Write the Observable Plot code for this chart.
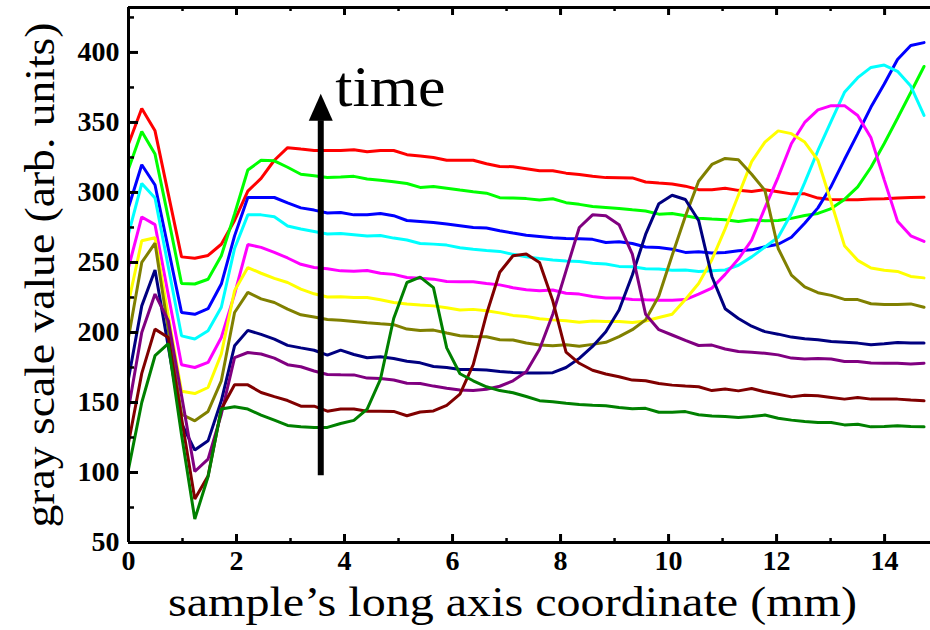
<!DOCTYPE html>
<html>
<head>
<meta charset="utf-8">
<script src="https://cdn.jsdelivr.net/npm/d3@7"></script>
<script src="https://cdn.jsdelivr.net/npm/@observablehq/plot@0.6"></script>
<style>
  html, body { margin: 0; padding: 0; background: #fff; }
</style>
</head>
<body>
<div id="chart"></div>
<script>
// sample positions along the long axis (mm)
const xs = [0, 0.2455, 0.491, 0.7365, 0.982, 1.2275, 1.473, 1.7185, 1.964, 2.2095, 2.455, 2.7005, 2.946, 3.1915, 3.437, 3.6825, 3.928, 4.1735, 4.419, 4.6645, 4.91, 5.1555, 5.401, 5.6465, 5.892, 6.1375, 6.383, 6.6285, 6.874, 7.1195, 7.365, 7.6105, 7.856, 8.1015, 8.347, 8.5925, 8.838, 9.0835, 9.329, 9.5745, 9.82, 10.0655, 10.311, 10.5565, 10.802, 11.0475, 11.293, 11.5385, 11.784, 12.0295, 12.275, 12.5205, 12.766, 13.0115, 13.257, 13.5025, 13.748, 13.9935, 14.239, 14.4845, 14.73];

// gray scale value profiles, latest (top) to earliest (bottom)
const redValues = [334.6, 360, 344, 299, 254, 253, 255, 263, 280, 301, 310, 323, 332, 331, 330, 330, 330, 330.5, 329, 330, 330, 327, 326, 325, 323, 323, 323, 320.5, 318.6, 318.4, 317, 315.5, 315.5, 313.8, 312.8, 311.5, 310.6, 310.5, 310.4, 307.5, 306.7, 306, 304.5, 302, 302, 303, 301.5, 300.7, 302, 300.5, 299, 299, 296, 295, 294.8, 294.8, 295.3, 295.5, 296, 296.4, 296.6];
const greenValues = [316.7, 343.6, 327.4, 282, 235, 234.6, 238, 254.8, 284.6, 316, 323, 322.6, 318, 313, 312, 310.7, 311, 311.5, 309.6, 308.8, 307.6, 306.4, 303.6, 304.3, 303, 301.7, 300.5, 299.5, 296.3, 296, 295.6, 294.6, 295.5, 292.7, 291.5, 290, 289.3, 288.5, 287.6, 286.8, 284.5, 285, 283.4, 281.6, 281, 280.5, 279.3, 280.5, 279.8, 280, 281.5, 283.5, 285, 288.5, 295, 304, 318, 335, 353, 371.4, 390];
const blueValues = [289.3, 319.8, 305.3, 260, 214.3, 213, 217, 234.6, 269, 296.4, 296.4, 296.4, 292.5, 289, 287.4, 285.3, 285.7, 284, 284, 285, 283.4, 280, 279.3, 278.6, 277.4, 276.2, 275, 274.6, 272.7, 271, 269.4, 268.5, 267.6, 267.1, 267, 266.5, 264.3, 264.8, 263.5, 261, 260.7, 259.5, 257.2, 257.6, 256.7, 257.1, 258.4, 259, 261.2, 263, 268, 278, 289, 304.5, 323.5, 342, 361, 377.5, 395, 405, 407];
const cyanValues = [270.5, 306.4, 296, 247, 197.6, 195.3, 201.2, 218, 260, 284, 284, 282.6, 276, 273.9, 272.1, 270.3, 270.7, 269.8, 268.9, 269.3, 267.4, 266, 263.6, 263.1, 262.4, 260.5, 259.4, 258.6, 257.9, 255.8, 254, 252.8, 251.7, 251, 250.7, 249.5, 248.9, 247.2, 246.9, 245.5, 245.3, 244.5, 244.6, 243.6, 244, 244.6, 248, 254, 261, 268, 285, 307, 330, 351, 371.5, 382, 389.3, 391, 386.5, 376, 355];
const magentaValues = [246.4, 282.5, 277, 227, 177, 175, 178.6, 196.4, 227.4, 262.8, 260.8, 257.2, 253.2, 248.7, 246.4, 245.5, 244, 243.8, 244.3, 242.3, 241.5, 239.3, 238.7, 238.1, 236.4, 236.2, 236.2, 235, 234, 232, 230.5, 229.8, 230.3, 228, 227.4, 225.7, 224.6, 224.6, 223.6, 223.3, 223.1, 223, 223.5, 227.4, 231.7, 241.5, 252.4, 266, 289, 311, 335, 350, 359, 362, 362, 355, 339, 309, 279.5, 269, 265];
const yellowValues = [221.4, 265.5, 267.7, 212, 158, 156.4, 160.7, 184.6, 229.8, 246.4, 242.3, 238.6, 235.7, 231, 227.6, 225.3, 225.5, 225, 225, 223.4, 221.4, 220.3, 219.6, 219, 217.7, 216, 216.5, 215.5, 214, 212.2, 211.4, 209.8, 209, 208.4, 207.3, 208.2, 207.9, 207.8, 207.2, 208.2, 210.7, 213, 223.5, 235, 252, 274, 298, 322, 336, 344, 342, 336, 323, 293, 262, 251.5, 246, 244.5, 243.6, 240, 239];
const oliveValues = [196.4, 250, 263.8, 202, 141.6, 136.9, 143.6, 165.5, 214.3, 228.6, 224, 221.4, 216.7, 212.6, 211, 209.3, 208.7, 207.8, 206.9, 206.2, 205.6, 202.4, 201.4, 201.7, 199.6, 197.6, 197.2, 196.9, 194.8, 194.6, 192.5, 191, 190.5, 191.2, 190.2, 191.5, 193, 197, 202, 209, 226, 255, 283, 308, 320, 324.3, 323.3, 313, 301.5, 260, 241, 232.5, 228.4, 226.5, 223.6, 223.5, 220.5, 220, 220, 220.4, 218];
const navyValues = [167, 219, 244.6, 190, 135, 116, 122.6, 151.2, 190.5, 201.5, 198.6, 195.3, 190.8, 189, 187.3, 183.8, 187.4, 184.3, 182, 182.6, 181.4, 179.5, 178.3, 175.7, 175, 173.5, 173.5, 173.2, 172.2, 171.5, 171, 171, 171.3, 175, 181.5, 190, 200.5, 216, 241, 270, 292, 298, 295, 280, 240, 217, 210, 204.5, 200.6, 198.8, 196.7, 195.5, 194.8, 193.6, 193, 192.4, 191.2, 191.9, 192.9, 192.4, 192.4];
const purpleValues = [145.5, 200, 227.4, 208.5, 155, 100.7, 109.6, 141.6, 182.1, 185.7, 184.6, 181.7, 177, 175.5, 172.5, 170, 169.8, 169.7, 167.4, 167.1, 166, 163.7, 163.6, 161.7, 160.2, 158.9, 158.6, 159.4, 161.6, 165.5, 172, 188, 213, 244, 275, 284, 283.4, 277, 256, 213, 202, 198.2, 194.3, 190.7, 191, 188.2, 186.4, 185.9, 185.2, 184, 181.7, 181, 181.5, 181, 179.3, 179.3, 178.2, 178, 178, 177.4, 178];
const maroonValues = [121, 170.8, 202.4, 196.4, 139, 81, 97.5, 145.3, 162.6, 162.6, 157.1, 154.2, 151.4, 147.4, 147.4, 143.8, 145.3, 145.3, 143.8, 143.8, 143.6, 140.5, 143.2, 144, 148, 156, 177, 213, 243, 254.8, 256, 250, 222.6, 186, 178, 173, 170.3, 168.4, 166, 165.5, 163.5, 162.4, 161.7, 161.2, 158.5, 159.6, 158.3, 160, 157.6, 155.9, 154, 155.2, 154.8, 153.6, 152.4, 153.6, 152.4, 152.4, 152.4, 151.7, 151.2];
const darkGreenValues = [102.4, 150, 183.4, 192, 127, 66.7, 97, 145.3, 147, 145.3, 141, 137.4, 133.6, 132.7, 132.1, 132.2, 135, 137.2, 145.3, 166.5, 210, 235.7, 239.5, 232, 189, 170.5, 165.5, 161.2, 158.5, 157, 154.3, 151.3, 150.5, 149.4, 148.6, 148, 147.6, 146.4, 145.5, 145.8, 143, 143, 143.5, 141.2, 140.3, 140, 139.3, 140, 141, 138.8, 137.4, 136.4, 135.7, 135.7, 134, 134.5, 132.6, 132.9, 133.3, 132.9, 132.6];

const seriesColors = ["#ff0000", "#00ff00", "#0000ff", "#00ffff", "#ff00ff", "#ffff00", "#808000", "#000080", "#800080", "#800000", "#008000"];
const seriesValues = [redValues, greenValues, blueValues, cyanValues, magentaValues, yellowValues, oliveValues, navyValues, purpleValues, maroonValues, darkGreenValues];

// axes
const xMajorTicks = [0, 2, 4, 6, 8, 10, 12, 14];
const xMinorTicks = [1, 3, 5, 7, 9, 11, 13];
const yMajorTicks = [50, 100, 150, 200, 250, 300, 350, 400];
const yMinorTicks = [75, 125, 175, 225, 275, 325, 375, 425];
const xDomain = [0, 14.85];
const yDomain = [50, 432.1];
const xTitle = "sample\u2019s long axis coordinate (mm)";
const yTitle = "gray scale value (arb. units)";

// "time" annotation
const arrowX = [3.56];
const arrowY = [97.6, 351.2];   // shaft bottom, head base
const timeLabel = [{x: 3.83, y: 362, text: "time"}];

const W = 930, H = 630, mL = 128, mR = 0, mT = 7, mB = 88;
const frameW = W - mL - mR, frameH = H - mT - mB;
const serif = "'Liberation Serif', 'Times New Roman', serif";

const headSymbol = {
  draw(context) {
    context.moveTo(0, -27);
    context.lineTo(12, 0);
    context.lineTo(-12, 0);
    context.closePath();
  }
};

const lineMarks = seriesValues.map((vals, k) =>
  Plot.line(xs.map((x, i) => ({x, y: vals[i]})), {x: "x", y: "y", stroke: seriesColors[k], strokeWidth: 3, strokeLinejoin: "miter"})
);

const chart = Plot.plot({
  width: W, height: H,
  marginLeft: mL, marginRight: mR, marginTop: mT, marginBottom: mB,
  x: {domain: xDomain},
  y: {domain: yDomain},
  style: {fontFamily: serif, background: "#fff", color: "#000", overflow: "visible"},
  marks: [
    ...lineMarks,
    // arrow
    Plot.ruleX(arrowX, {x: d => d, y1: arrowY[0], y2: arrowY[1], stroke: "#000", strokeWidth: 6}),
    Plot.dot(arrowX, {x: d => d, y: () => arrowY[1], symbol: headSymbol, fill: "#000", stroke: "none"}),
    Plot.text(timeLabel, {x: "x", y: "y", text: "text", textAnchor: "start", lineAnchor: "bottom", fontSize: 56, fill: "#000"}),
    // frame (left, bottom, top)
    Plot.ruleX([xDomain[0]], {stroke: "#000", strokeWidth: 3}),
    Plot.ruleY([yDomain[0]], {stroke: "#000", strokeWidth: 3}),
    Plot.ruleY([yDomain[1]], {stroke: "#000", strokeWidth: 3}),
    // inward ticks
    Plot.tickX(xMajorTicks, {x: d => d, insetTop: frameH - 8, stroke: "#000", strokeWidth: 3}),
    Plot.tickX(xMinorTicks, {x: d => d, insetTop: frameH - 4, stroke: "#000", strokeWidth: 2.5}),
    Plot.tickX(xMajorTicks, {x: d => d, insetBottom: frameH - 8, stroke: "#000", strokeWidth: 3}),
    Plot.tickX(xMinorTicks, {x: d => d, insetBottom: frameH - 4, stroke: "#000", strokeWidth: 2.5}),
    Plot.tickY(yMajorTicks, {y: d => d, insetRight: frameW - 10, stroke: "#000", strokeWidth: 3}),
    Plot.tickY(yMinorTicks, {y: d => d, insetRight: frameW - 6, stroke: "#000", strokeWidth: 2.5}),
    // tick labels
    Plot.axisX({ticks: xMajorTicks, tickSize: 0, tickPadding: 8, fontSize: 28, fontWeight: "bold", label: null, tickFormat: d => String(d)}),
    Plot.axisY({ticks: yMajorTicks, tickSize: 0, tickPadding: 9, fontSize: 28, fontWeight: "bold", label: null, tickFormat: d => String(d)}),
    // axis titles
    Plot.text([xTitle], {text: d => d, frameAnchor: "bottom", textAnchor: "middle", dx: -17, dy: 73, lineAnchor: "bottom", fontSize: 43, fill: "#000"}),
    Plot.text([yTitle], {text: d => d, frameAnchor: "left", textAnchor: "middle", dx: 53 - mL, dy: 0, rotate: -90, lineAnchor: "bottom", fontSize: 42, fontWeight: "normal", fill: "#000"})
  ]
});

document.getElementById("chart").appendChild(chart);

// stretch titles to the reference widths
const fits = {[xTitle]: 689, [yTitle]: 505, "time": 110};
chart.querySelectorAll("text").forEach(t => {
  const w = fits[t.textContent];
  if (w) { t.setAttribute("textLength", w); t.setAttribute("lengthAdjust", "spacingAndGlyphs"); }
});
</script>
</body>
</html>
